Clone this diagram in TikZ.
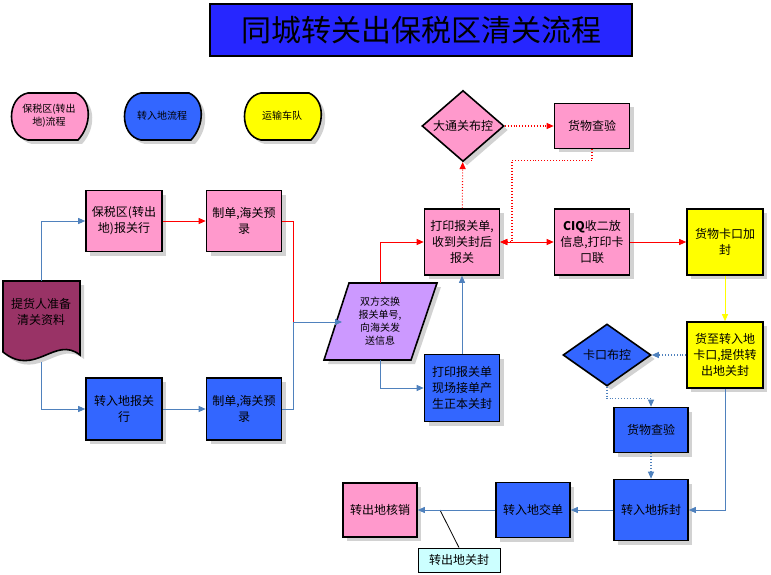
\documentclass[tikz,border=0pt]{standalone}
\usepackage{fontspec}
\setmainfont{Noto Sans CJK SC}
\usetikzlibrary{shapes.geometric,arrows.meta,shadows}
\definecolor{pk}{HTML}{FF99CC}
\definecolor{bl}{HTML}{3366FF}
\definecolor{yl}{HTML}{FFFF00}
\definecolor{pu}{HTML}{CC99FF}
\definecolor{mr}{HTML}{993366}
\definecolor{ln}{HTML}{4F81BD}
\definecolor{cy}{HTML}{CCFFFF}
\begin{document}
\begin{tikzpicture}[x=1pt,y=-1pt,
  shd/.style={drop shadow={shadow xshift=4pt,shadow yshift=-4pt,fill=gray!35,opacity=1}},
  box/.style={draw=black,line width=1.6pt,shd,align=center,inner sep=1pt,font=\fontsize{12}{16}\selectfont,text width=#1},
  box/.default=70pt,
  pinkbox/.style={box,fill=pk},
  bluebox/.style={box,fill=bl},
  yelbox/.style={box,fill=yl},
  dia/.style={draw=black,line width=1.6pt,shd,diamond,inner sep=0pt,font=\fontsize{12}{16}\selectfont},
  ar/.style={-{Triangle[length=7pt,width=6pt]},line width=0.9pt},
  bline/.style={ar,draw=ln},
  rline/.style={ar,draw=red},
  rdot/.style={rline,dotted,line width=1.1pt},
  bdot/.style={bline,dotted,line width=1.1pt},
  leg/.style={draw=black,line width=1.6pt,shd}
]
\useasboundingbox (0,0) rectangle (771,575);
% title
\node[draw=black,line width=1.6pt,fill=blue!85!white,minimum width=422pt,minimum height=52pt,font=\fontsize{30}{34}\selectfont] (title) at (421,30) {同城转关出保税区清关流程};
% legend
\foreach \xo/\c/\t in {0/pk/{保税区(转出\\地)流程},113/bl/{转入地流程},233/yl/{运输车队}}{
  \begin{scope}[xshift=\xo pt]
  \draw[leg,fill=\c] (28,93) -- (76,93) .. controls (92,100) and (92,125) .. (78,140) -- (28,140) .. controls (6,136) and (6,97) .. (28,93);
  \node[align=center,font=\fontsize{10}{13}\selectfont] (lg\xo) at (49,116) {\t};
  \end{scope}}
% document
\draw[leg,fill=mr] (3,281) -- (80,281) -- (80,355) .. controls (55,335) and (35,378) .. (3,352) -- cycle;
\node[align=center,font=\fontsize{12}{16}\selectfont] (doc) at (41,312) {提货人准备\\清关资料};
\coordinate (docT) at (41,281);
\coordinate (docB) at (41,362);
% left boxes
\node[pinkbox,minimum width=76pt,minimum height=61pt] (b1) at (124,221) {保税区(转出\\地)报关行};
\node[pinkbox,minimum width=75pt,minimum height=61pt] (b2) at (244,221) {制单,海关预\\录};
\node[bluebox,minimum width=76pt,minimum height=62pt] (c1) at (124,409) {转入地报关\\行};
\node[bluebox,minimum width=75pt,minimum height=62pt] (c2) at (244,409) {制单,海关预\\录};
% parallelogram
\draw[leg,fill=pu] (349,283) -- (437,283) -- (411,360) -- (324,360) -- cycle;
\node[align=center,font=\fontsize{10}{13}\selectfont] (par) at (380,321) {双方交换\\报关单号,\\向海关发\\送信息};
\coordinate (parL) at (342,322);
\coordinate (parT) at (380,283);
\coordinate (parB) at (380,360);
% middle
\node[pinkbox,minimum width=75pt,minimum height=66pt] (p) at (462,242) {打印报关单,\\收到关封后\\报关};
\node[bluebox,minimum width=75pt,minimum height=67pt] (pb) at (462,388) {打印报关单\\现场接单产\\生正本关封};
\node[dia,fill=pk,minimum width=82pt,minimum height=64pt] (d1) at (463,126) {大通关布控};
\node[pinkbox,minimum width=75pt,minimum height=45pt] (q1) at (592,126) {货物查验};
\node[pinkbox,minimum width=75pt,minimum height=66pt] (ciq) at (592,242) {\textbf{CIQ}收二放\\信息,打印卡\\口联};
\node[yelbox,minimum width=76pt,minimum height=66pt] (y1) at (725,242) {货物卡口加\\封};
\node[yelbox,minimum width=76pt,minimum height=66pt] (y2) at (725,355) {货至转入地\\卡口,提供转\\出地关封};
\node[dia,fill=bl,minimum width=88pt,minimum height=62pt] (d2) at (607,355) {卡口布控};
\node[bluebox,minimum width=74pt,minimum height=45pt] (q2) at (651,430) {货物查验};
\node[bluebox,minimum width=74pt,minimum height=61pt] (cf) at (651,510) {转入地拆封};
\node[bluebox,minimum width=74pt,minimum height=55pt] (jd) at (533,510) {转入地交单};
\node[pinkbox,minimum width=74pt,minimum height=54pt] (hx) at (380,510) {转出地核销};
\node[draw=black,line width=0.8pt,fill=cy,minimum width=82pt,minimum height=24pt,font=\fontsize{12}{16}\selectfont] (gf) at (459,560) {转出地关封};
\coordinate (gfp) at (440,510);
\draw[line width=0.8pt] (gf.north) -- (gfp);
% connectors
\draw[bline] (docT) |- (b1.west);
\draw[bline] (docB) |- (c1.west);
\draw[rline] (b1) -- (b2);
\draw[bline] (c1) -- (c2);
\coordinate (m) at (293,322);
\draw[red,line width=0.9pt] (b2.east) -| (m);
\draw[ln,line width=0.9pt] (c2.east) -| (m);
\draw[bline] (m) -- (parL);
\draw[rline] (parT) |- (p.west);
\draw[bline] (parB) |- (pb.west);
\draw[bline] (pb) -- (p);
\draw[rdot] (p) -- (d1);
\draw[rdot] (d1) -- (q1);
\draw[rdot] (q1.south) -- ++(0,11) -| (512,242) -- (p.east);
\draw[red,line width=0.9pt,{Triangle[length=7pt,width=6pt]}-{Triangle[length=7pt,width=6pt]}] (p) -- (ciq);
\draw[rline] (ciq) -- (y1);
\draw[ar,draw=yl] (y1) -- (y2);
\draw[bdot] (y2) -- (d2);
\draw[bdot] (d2.south) -- ++(0,12) -| (q2.north);
\draw[bdot] (q2) -- (cf);
\draw[bline] (y2.south) |- (cf.east);
\draw[bline] (cf) -- (jd);
\draw[bline] (jd) -- (hx);
\end{tikzpicture}
\end{document}
